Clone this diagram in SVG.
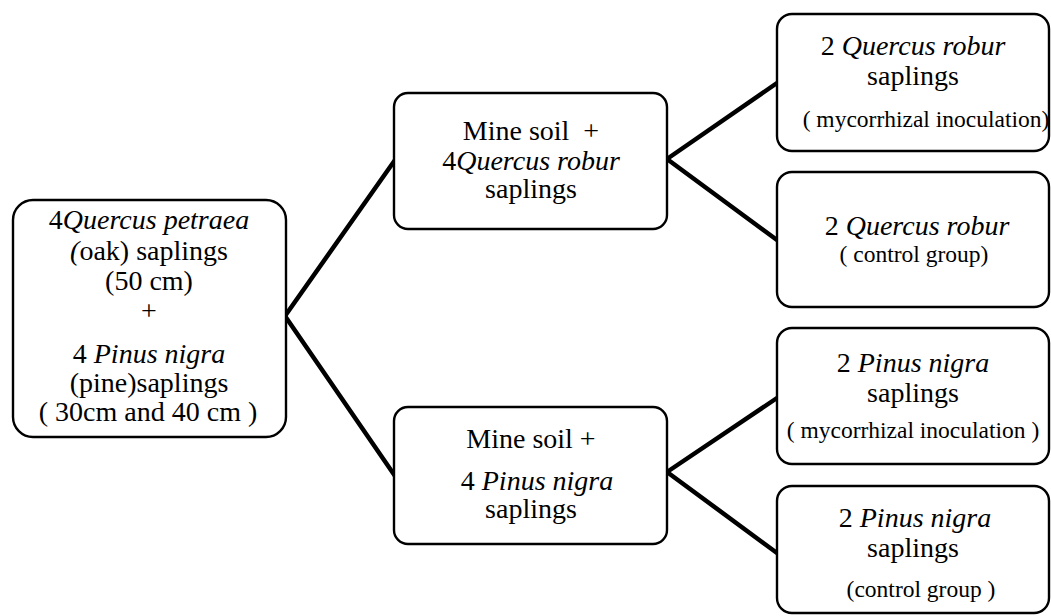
<svg xmlns="http://www.w3.org/2000/svg" width="1051" height="616" viewBox="0 0 1051 616">
<style>
.box{fill:#fff;stroke:#000;stroke-width:2.4}
.t{font-family:'Liberation Serif','Times New Roman',serif;font-size:28px;fill:#000;text-anchor:middle}
.s{font-size:23.5px}
.i{font-style:italic}
.c{fill:none;stroke:#000;stroke-width:4.5;stroke-linecap:round}
</style>
<rect width="1051" height="616" fill="#fff"/>
<g id="connectors">
<line class="c" x1="285" y1="316" x2="395" y2="160"/>
<line class="c" x1="285" y1="316" x2="395" y2="476"/>
<line class="c" x1="667" y1="159" x2="777" y2="83"/>
<line class="c" x1="667" y1="159" x2="777" y2="240"/>
<line class="c" x1="667" y1="472" x2="777" y2="398"/>
<line class="c" x1="667" y1="472" x2="777" y2="553"/>
</g>
<g id="root">
<rect class="box" x="13" y="200" width="273" height="237" rx="20"/>
<text class="t" x="149" y="229">4<tspan class="i">Quercus petraea</tspan></text>
<text class="t" x="149" y="260"><tspan class="i">(</tspan>oak) saplings</text>
<text class="t" x="149" y="290">(50 cm)</text>
<text class="t" x="149" y="320">+</text>
<text class="t" x="149" y="363">4 <tspan class="i">Pinus nigra</tspan></text>
<text class="t" x="149" y="392">(pine)saplings</text>
<text class="t" x="148" y="421">( 30cm and 40 cm )</text>
</g>
<g id="oak">
<rect class="box" x="394" y="93" width="273" height="136" rx="14"/>
<text class="t" x="531" y="140" xml:space="preserve">Mine soil  +</text>
<text class="t" x="531" y="170">4<tspan class="i">Quercus robur</tspan></text>
<text class="t" x="531" y="198">saplings</text>
</g>
<g id="pine">
<rect class="box" x="394" y="407" width="273" height="137" rx="14"/>
<text class="t" x="531" y="448">Mine soil +</text>
<text class="t" x="537" y="490">4 <tspan class="i">Pinus nigra</tspan></text>
<text class="t" x="531" y="518">saplings</text>
</g>
<g id="oak-myc">
<rect class="box" x="777" y="14" width="272" height="137" rx="15"/>
<text class="t" x="913" y="55">2 <tspan class="i">Quercus robur</tspan></text>
<text class="t" x="913" y="85">saplings</text>
<text class="t s" x="926" y="127">( mycorrhizal inoculation)</text>
</g>
<g id="oak-ctrl">
<rect class="box" x="777" y="172" width="272" height="135" rx="15"/>
<text class="t" x="917" y="235">2 <tspan class="i">Quercus robur</tspan></text>
<text class="t s" x="914" y="262">( control group)</text>
</g>
<g id="pine-myc">
<rect class="box" x="777" y="328" width="272" height="136" rx="15"/>
<text class="t" x="913" y="372">2 <tspan class="i">Pinus nigra</tspan></text>
<text class="t" x="913" y="402">saplings</text>
<text class="t s" x="913" y="438">( mycorrhizal inoculation )</text>
</g>
<g id="pine-ctrl">
<rect class="box" x="777" y="486" width="272" height="127" rx="15"/>
<text class="t" x="915" y="527">2 <tspan class="i">Pinus nigra</tspan></text>
<text class="t" x="913" y="557">saplings</text>
<text class="t s" x="921" y="597">(control group )</text>
</g>
</svg>
